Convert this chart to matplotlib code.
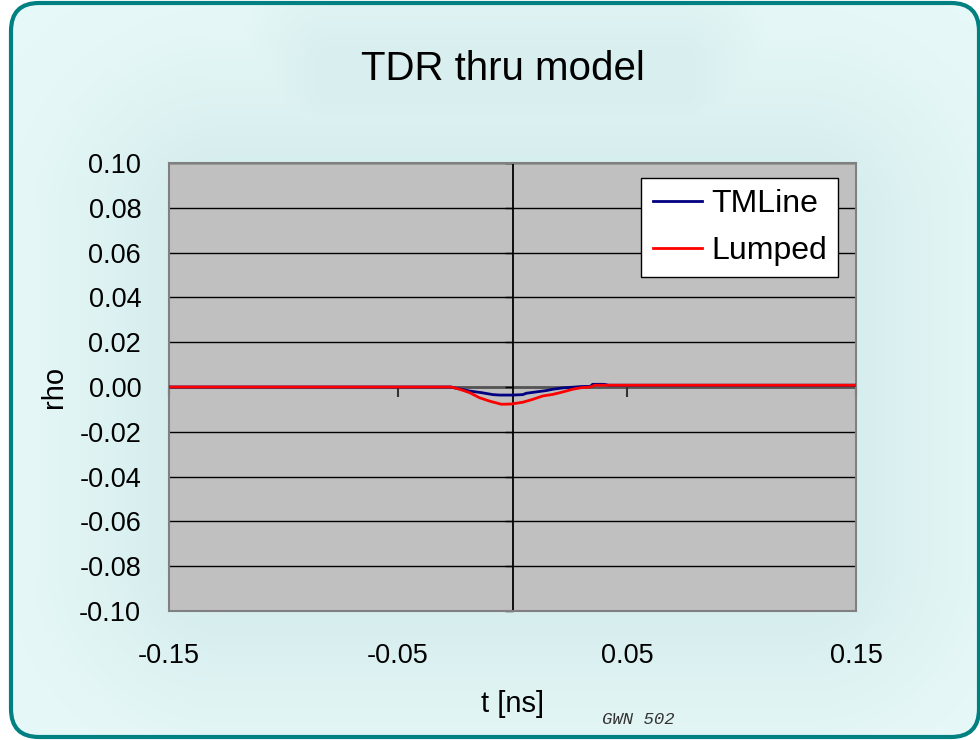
import numpy as np
import matplotlib
matplotlib.use("Agg")
import matplotlib.pyplot as plt
from matplotlib.patches import FancyBboxPatch
from matplotlib.transforms import IdentityTransform

plt.rcParams['font.family'] = ['Liberation Sans', 'DejaVu Sans']

# ---- data ----
title = "TDR thru model"
x_label = "t [ns]"
y_label = "rho"
x_ticks = [-0.15, -0.05, 0.05, 0.15]
y_ticks = [-0.10, -0.08, -0.06, -0.04, -0.02, 0.00, 0.02, 0.04, 0.06, 0.08, 0.10]

tm_t = [-0.15, -0.027, -0.0224, -0.0188, -0.0137, -0.0086, -0.0057, 0.0001, 0.0045,
        0.0060, 0.0103, 0.0147, 0.0176, 0.0220, 0.0263, 0.0300, 0.0340, 0.0350,
        0.0400, 0.0420, 0.15]
tm_rho = [0.0, 0.0, -0.0010, -0.0018, -0.0025, -0.0034, -0.0036, -0.0036, -0.0034,
          -0.0028, -0.0022, -0.0016, -0.0010, -0.0004, -0.0001, 0.0002, 0.0003, 0.0012,
          0.0012, 0.0008, 0.0008]

lp_t = [-0.15, -0.0268, -0.0231, -0.0188, -0.0144, -0.0100, -0.0049, -0.0006, 0.0045,
        0.0089, 0.0132, 0.0176, 0.0220, 0.0263, 0.0300, 0.0340, 0.0360, 0.15]
lp_rho = [0.0, 0.0, -0.0010, -0.0025, -0.0048, -0.0063, -0.0077, -0.0076, -0.0068,
          -0.0055, -0.0040, -0.0033, -0.0022, -0.0010, -0.0003, 0.0, 0.0008, 0.0008]

W, H = 980, 740
fig = plt.figure(figsize=(W / 100, H / 100), dpi=100, facecolor='white')

# ---- background gradient (decoration) ----
bg = fig.add_axes([0, 0, 1, 1], zorder=-10)
yy, xx = np.mgrid[0:H, 0:W]
def soft_rect(x0, x1, y0, y1, s):
    dx = np.maximum(np.maximum(x0 - xx, xx - x1), 0)
    dy = np.maximum(np.maximum(y0 - yy, yy - y1), 0)
    d = np.sqrt(dx ** 2 + dy ** 2)
    return np.exp(-(d / s) ** 2)
g = np.maximum(soft_rect(220, 800, 220, 560, 150) * 0.8, soft_rect(330, 680, 60, 90, 80) * 0.6)
light = np.array([0.910, 0.975, 0.975])
dark = np.array([0.815, 0.915, 0.915])
img = light[None, None, :] * (1 - g[..., None]) + dark[None, None, :] * g[..., None]
bg.imshow(img, extent=[0, W, H, 0], aspect='auto', interpolation='bilinear')
bg.set_xlim(0, W)
bg.set_ylim(H, 0)
bg.axis('off')
border = FancyBboxPatch((11, 3), W - 12, H - 6, boxstyle="round,pad=0,rounding_size=28",
                        transform=IdentityTransform(), facecolor='none',
                        edgecolor='#008080', linewidth=3.0, zorder=-5)
fig.patches.append(border)
clip = FancyBboxPatch((11, 3), W - 12, H - 6, boxstyle="round,pad=0,rounding_size=28",
                      transform=IdentityTransform(), facecolor='none', edgecolor='none')
fig.patches.append(clip)
bg.images[0].set_clip_path(clip)

# ---- main axes ----
ax = fig.add_axes([169 / W, 129 / H, 687 / W, 448 / H])
ax.set_facecolor('#C0C0C0')
ax.set_xlim(-0.15, 0.15)
ax.set_ylim(-0.10, 0.10)
ax.set_xticks(x_ticks)
ax.set_yticks(y_ticks)
ax.set_xticklabels([f"{v:.2f}" for v in x_ticks])
ax.set_yticklabels([f"{v:.2f}" for v in y_ticks])
ax.tick_params(length=0, labelsize=19.5)
ax.tick_params(axis='x', pad=23)
ax.tick_params(axis='y', pad=20)
for sp in ax.spines.values():
    sp.set_color('#808080')
    sp.set_linewidth(1.5)
for v in y_ticks:
    ax.axhline(v, color='black', linewidth=1.0, zorder=1)
ax.axhline(0, color='#555555', linewidth=2.0, zorder=2)
ax.axvline(0, color='black', linewidth=1.3, zorder=2)
ax.plot(x_ticks, [0] * len(x_ticks), linestyle='none', marker=3, markersize=7,
        markeredgewidth=1.5, color='#333333', clip_on=False, zorder=2)
ax.plot([0] * len(y_ticks), y_ticks, linestyle='none', marker=0, markersize=6,
        markeredgewidth=1.0, color='black', clip_on=False, zorder=2)

ax.plot(tm_t, tm_rho, color='#000080', linewidth=2.0, label='TMLine', zorder=3)
ax.plot(lp_t, lp_rho, color='#FF0000', linewidth=2.0, label='Lumped', zorder=4)

ax.set_xlabel(x_label, fontsize=21, labelpad=15)
ax.set_ylabel(y_label, fontsize=21, labelpad=8)

leg = ax.legend(loc='upper right', bbox_to_anchor=(0.9738, 0.9665), fontsize=23,
                frameon=True, fancybox=False, framealpha=1, edgecolor='black',
                handlelength=1.55, handletextpad=0.28, borderpad=0.35, labelspacing=0.52,
                borderaxespad=0)
leg.get_frame().set_linewidth(1.0)

fig.text(0.5 * (360 + 645) / W, 1 - 69 / H, title, fontsize=29, ha='center', va='center')
fig.text(638 / W, 1 - 720 / H, "GWN 502", fontsize=12.5, ha='center', va='center',
         family='Liberation Mono', style='italic', color='#333333')

fig.savefig('out.png', dpi=100, facecolor='white')
